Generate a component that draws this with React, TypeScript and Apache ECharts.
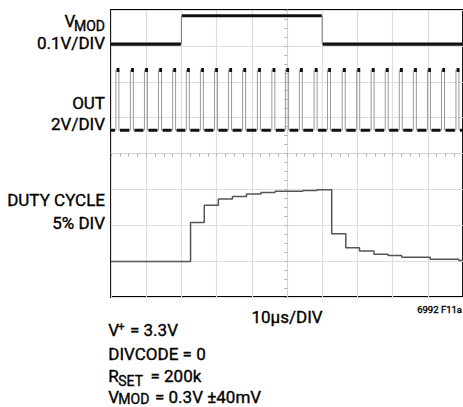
import React, { useEffect, useRef } from "react";
import * as echarts from "echarts";

// ---- data (time in µs, levels in screen divisions from the bottom) ----
const T_START = 0;
const T_END = 100;
const TIME_DIV = 10;

const vmodTimes = [0, 20, 60];
const vmodLevels = [7.05, 7.84, 7.05];

const outLowLevel = 4.65;
const outHighLevel = 6.33;
const pulseStarts = [
  1.4, 5.5, 9.5, 13.5, 17.5, 21.4, 25.4, 29.4, 33.4, 37.4, 41.6, 45.7, 49.6,
  53.5, 57.7, 61.5, 65.7, 69.8, 73.9, 77.9, 81.9, 85.9, 89.9, 93.9, 98.0,
];
const pulseWidth = 0.85;

const dutyTimes = [
  0, 22.6, 26.5, 30.5, 34.5, 38.5, 42.6, 46.6, 54.5, 58.5, 62.7, 66.7, 70.6,
  74.7, 78.7, 82.6, 90.7, 98.8,
];
const dutyLevels = [
  0.99, 2.08, 2.56, 2.73, 2.8, 2.87, 2.91, 2.95, 2.97, 2.99, 1.76, 1.37, 1.28,
  1.19, 1.16, 1.11, 1.05, 1.02,
];

// ---- helpers building series data from the arrays above ----
function stepPoints(times: number[], levels: number[]) {
  const pts: any[] = times.map((t, i) => [t, levels[i]]);
  pts.push([T_END, levels[levels.length - 1]]);
  return pts;
}

function levelSegments(times: number[], levels: number[], gap: number) {
  const pts: any[] = [];
  times.forEach((t, i) => {
    const end = i + 1 < times.length ? times[i + 1] : T_END;
    pts.push([i === 0 ? t : t + gap, levels[i]]);
    pts.push([i + 1 < times.length ? end - gap : end, levels[i]]);
    pts.push([end, "-"]);
  });
  return pts;
}

function outThin() {
  const pts: any[] = [[T_START, outLowLevel]];
  pulseStarts.forEach((p) => {
    pts.push([p, outLowLevel]);
    pts.push([p, outHighLevel]);
    pts.push([p + pulseWidth, outHighLevel]);
    pts.push([p + pulseWidth, outLowLevel]);
  });
  pts.push([T_END, outLowLevel]);
  return pts;
}

function outLowThick() {
  const gap = 0.3;
  const pts: any[] = [];
  let from = T_START;
  pulseStarts.forEach((p) => {
    pts.push([from, outLowLevel]);
    pts.push([p - gap, outLowLevel]);
    pts.push([p, "-"]);
    from = p + pulseWidth + gap;
  });
  pts.push([from, outLowLevel]);
  pts.push([T_END, outLowLevel]);
  return pts;
}

function outTops() {
  const pts: any[] = [];
  pulseStarts.forEach((p) => {
    pts.push([p + 0.2, outHighLevel]);
    pts.push([p + pulseWidth + 0.15, outHighLevel]);
    pts.push([p + pulseWidth + 0.3, "-"]);
  });
  return pts;
}

const FONT = "Roboto, 'Noto Sans', sans-serif";

function txt(
  text: string,
  x: number,
  y: number,
  size: number,
  align: "left" | "right" | "center"
) {
  return {
    type: "text",
    x,
    y,
    silent: true,
    style: {
      text,
      fill: "#000",
      stroke: "#000",
      lineWidth: 0.35,
      fontSize: size,
      fontFamily: FONT,
      textAlign: align,
      textVerticalAlign: "middle",
      align,
      verticalAlign: "middle",
    },
  };
}

export default function App() {
  const ref = useRef<HTMLDivElement>(null);

  useEffect(() => {
    if (!ref.current) return;
    const chart = echarts.init(ref.current, undefined, { renderer: "svg" });

    const gridColor = "#dedede";

    const option: any = {
      animation: false,
      grid: {
        left: 111,
        top: 10,
        width: 352.6,
        height: 287,
        show: true,
        borderColor: "#000",
        borderWidth: 2,
        backgroundColor: "transparent",
        containLabel: false,
      },
      xAxis: [
        {
          type: "value",
          min: T_START,
          max: T_END,
          interval: TIME_DIV,
          position: "bottom",
          axisLine: { show: false },
          axisTick: { show: false },
          axisLabel: { show: false },
          splitLine: { show: true, lineStyle: { color: gridColor, width: 1.2 } },
        },
        {
          type: "value",
          min: T_START,
          max: T_END,
          interval: TIME_DIV,
          position: "bottom",
          offset: -143.5,
          axisLine: {
            show: true,
            lineStyle: { color: "#d0d0d0", width: 1, type: "dotted" },
          },
          axisTick: { show: true, length: 3, lineStyle: { color: "#b0b0b0" } },
          minorTick: {
            show: true,
            splitNumber: 4,
            length: 3,
            lineStyle: { color: "#b0b0b0" },
          },
          axisLabel: { show: false },
          splitLine: { show: false },
        },
      ],
      yAxis: [
        {
          type: "value",
          min: 0,
          max: 8,
          interval: 1,
          position: "left",
          axisLine: { show: false },
          axisTick: { show: false },
          axisLabel: { show: false },
          splitLine: { show: true, lineStyle: { color: gridColor, width: 1.2 } },
        },
        {
          type: "value",
          min: 0,
          max: 8,
          interval: 1,
          position: "left",
          offset: -176.3,
          axisLine: {
            show: true,
            lineStyle: { color: "#d0d0d0", width: 1, type: "dotted" },
          },
          axisTick: { show: true, length: 3, lineStyle: { color: "#b0b0b0" } },
          minorTick: {
            show: true,
            splitNumber: 4,
            length: 3,
            lineStyle: { color: "#b0b0b0" },
          },
          axisLabel: { show: false },
          splitLine: { show: false },
        },
      ],
      series: [
        {
          type: "line",
          name: "VMOD edges",
          data: stepPoints(vmodTimes, vmodLevels),
          step: "end",
          symbol: "none",
          lineStyle: { color: "#777", width: 1 },
          z: 2,
        },
        {
          type: "line",
          name: "VMOD",
          data: levelSegments(vmodTimes, vmodLevels, 0.15),
          connectNulls: false,
          symbol: "none",
          lineStyle: { color: "#111", width: 3.2 },
          z: 3,
        },
        {
          type: "line",
          name: "OUT edges",
          data: outThin(),
          symbol: "none",
          lineStyle: { color: "#999", width: 1 },
          z: 2,
        },
        {
          type: "line",
          name: "OUT low",
          data: outLowThick(),
          connectNulls: false,
          symbol: "none",
          lineStyle: { color: "#111", width: 3 },
          z: 3,
        },
        {
          type: "line",
          name: "OUT high",
          data: outTops(),
          connectNulls: false,
          symbol: "none",
          lineStyle: { color: "#111", width: 4 },
          z: 3,
        },
        {
          type: "line",
          name: "DUTY CYCLE",
          data: stepPoints(dutyTimes, dutyLevels),
          step: "end",
          symbol: "none",
          lineStyle: { color: "#555", width: 1.5 },
          z: 3,
        },
      ],
      graphic: [
        txt("V", 75.3, 20.5, 17, "right"),
        txt("MOD", 105, 25.8, 14, "right"),
        txt("0.1V/DIV", 105, 43.3, 17, "right"),
        txt("OUT", 105, 103.3, 17, "right"),
        txt("2V/DIV", 105, 124, 17, "right"),
        txt("DUTY CYCLE", 105, 200.3, 17, "right"),
        txt("5% DIV", 105, 223, 17, "right"),
        txt("10µs/DIV", 287, 316.7, 17, "center"),
        txt("6992 F11a", 462, 309, 9.5, "right"),
        txt("V", 108.3, 330, 17, "left"),
        txt("+", 118.3, 326, 11, "left"),
        txt("= 3.3V", 130, 330, 17, "left"),
        txt("DIVCODE = 0", 108.3, 354.3, 17, "left"),
        txt("R", 108.3, 376.2, 17, "left"),
        txt("SET", 118.3, 381, 14, "left"),
        txt("= 200k", 150.5, 376.2, 17, "left"),
        txt("V", 108.3, 396.5, 17, "left"),
        txt("MOD", 118.3, 399.2, 14, "left"),
        txt("= 0.3V ±40mV", 155, 396.5, 17, "left"),
      ],
    };

    chart.setOption(option);
    return () => chart.dispose();
  }, []);

  return (
    <div
      ref={ref}
      style={{ position: "absolute", left: 0, top: 0, width: 463, height: 407 }}
    />
  );
}
